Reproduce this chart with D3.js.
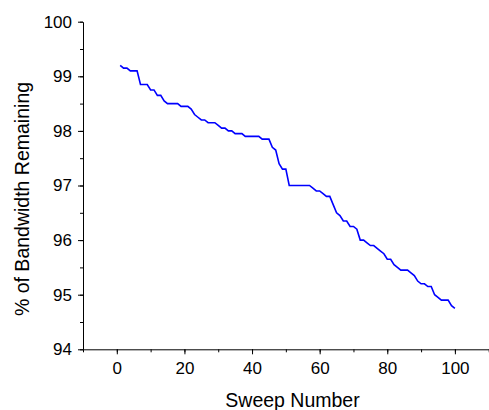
<!DOCTYPE html>
<html>
<head>
<meta charset="utf-8">
<script src="https://cdn.jsdelivr.net/npm/d3@7"></script>
<style>
  body { margin: 0; background: #fff; }
  text { font-family: "Liberation Sans", Arial, sans-serif; fill: #000; }
</style>
</head>
<body>
<div id="graph"></div>
<script>
// sweep numbers and % bandwidth remaining
const sweeps = d3.range(1, 101);
const remaining = [
  99.20, 99.15, 99.15, 99.10, 99.10, 99.10, 98.85, 98.85, 98.85, 98.75,
  98.75, 98.65, 98.65, 98.55, 98.50, 98.50, 98.50, 98.50, 98.45, 98.45,
  98.45, 98.40, 98.30, 98.25, 98.20, 98.20, 98.15, 98.15, 98.15, 98.10,
  98.05, 98.05, 98.00, 98.00, 97.95, 97.95, 97.95, 97.90, 97.90, 97.90,
  97.90, 97.90, 97.85, 97.85, 97.85, 97.70, 97.65, 97.40, 97.30, 97.30,
  97.00, 97.00, 97.00, 97.00, 97.00, 97.00, 97.00, 96.95, 96.90, 96.90,
  96.85, 96.80, 96.80, 96.65, 96.50, 96.45, 96.35, 96.35, 96.25, 96.25,
  96.20, 96.00, 96.00, 95.95, 95.90, 95.90, 95.85, 95.80, 95.75, 95.65,
  95.65, 95.55, 95.50, 95.45, 95.45, 95.45, 95.40, 95.35, 95.25, 95.20,
  95.20, 95.15, 95.15, 95.00, 94.95, 94.90, 94.90, 94.90, 94.80, 94.75
];
const xTicks = [0, 20, 40, 60, 80, 100];
const yTicks = [94, 95, 96, 97, 98, 99, 100];
const xTitle = "Sweep Number";
const yTitle = "% of Bandwidth Remaining";

let width = 489;
let height = 410;
let plotLeft = 83, plotRight = 488.7, plotTop = 21.7, plotBottom = 349.3;

let svg = d3.select("#graph")
    .append("svg")
    .attr("width", width)
    .attr("height", height);

let xScale = d3.scaleLinear().domain([-10, 110]).range([plotLeft, plotRight]);
let yScale = d3.scaleLinear().domain([94, 100]).range([plotBottom, plotTop]);

// minor ticks first, then major ticks with labels
svg.append("g")
    .attr("transform", "translate(0," + plotBottom + ")")
    .call(d3.axisBottom(xScale).tickValues(d3.range(-10, 111, 10)).tickSize(3).tickFormat(""))
    .call(g => g.select(".domain").remove());

svg.append("g")
    .attr("transform", "translate(0," + plotBottom + ")")
    .call(d3.axisBottom(xScale).tickValues(xTicks).tickSize(5).tickPadding(8).tickSizeOuter(0).tickFormat(d3.format("d")))
    .attr("font-size", null)
    .attr("font-family", null)
    .selectAll("text").style("font-size", "17px");

svg.append("g")
    .attr("transform", "translate(" + plotLeft + ",0)")
    .call(d3.axisLeft(yScale).tickValues(d3.range(94, 100.01, 0.5)).tickSize(3).tickFormat(""))
    .call(g => g.select(".domain").remove());

svg.append("g")
    .attr("transform", "translate(" + plotLeft + ",0)")
    .call(d3.axisLeft(yScale).tickValues(yTicks).tickSize(5).tickPadding(6).tickSizeOuter(0).tickFormat(d3.format("d")))
    .attr("font-size", null)
    .attr("font-family", null)
    .selectAll("text").style("font-size", "17px");

svg.selectAll(".domain, .tick line").attr("stroke", "#000").attr("stroke-width", 1);

let line = d3.line()
    .x((d, i) => xScale(sweeps[i]))
    .y(d => yScale(d));

svg.append("path")
    .datum(remaining)
    .attr("fill", "none")
    .attr("stroke", "#0000ff")
    .attr("stroke-width", 1.6)
    .attr("d", line);

svg.append("text")
    .attr("x", 292.5)
    .attr("y", 407)
    .attr("text-anchor", "middle")
    .style("font-size", "19.5px")
    .text(xTitle);

svg.append("text")
    .attr("transform", "translate(28.5,199) rotate(-90)")
    .attr("text-anchor", "middle")
    .style("font-size", "19.5px")
    .text(yTitle);
</script>
</body>
</html>
